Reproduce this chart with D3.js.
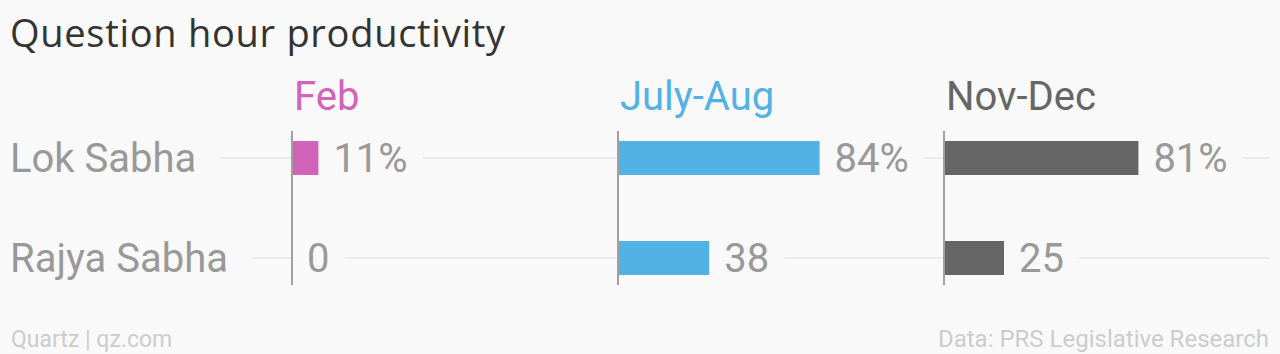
<!DOCTYPE html>
<html><head><meta charset="utf-8">
<script src="https://cdn.jsdelivr.net/npm/d3@7"></script>
<style>
html,body{margin:0;padding:0;background:#f9f9f9;}
svg{display:block;font-family:Roboto, "Noto Sans", sans-serif;}
</style></head>
<body>
<script>
const title = "Question hour productivity";
const categories = ["Lok Sabha", "Rajya Sabha"];
const periods = ["Feb", "July-Aug", "Nov-Dec"];
const periodColors = ["#d163b9", "#52b2e5", "#666666"];
const valuesFeb = [11, 0];
const valuesJulyAug = [84, 38];
const valuesNovDec = [81, 25];
const valueLabelsFeb = ["11%", "0"];
const valueLabelsJulyAug = ["84%", "38"];
const valueLabelsNovDec = ["81%", "25"];
const sourceLeft = "Quartz | qz.com";
const sourceRight = "Data: PRS Legislative Research";

const series = [valuesFeb, valuesJulyAug, valuesNovDec];
const seriesLabels = [valueLabelsFeb, valueLabelsJulyAug, valueLabelsNovDec];

const W = 1280, H = 354, BG = "#f9f9f9";
const svg = d3.select("body").append("svg").attr("width", W).attr("height", H);
svg.append("rect").attr("width", W).attr("height", H).attr("fill", BG);

svg.append("text").attr("x", 10).attr("y", 47).attr("font-size", 38)
  .attr("font-family", "'Open Sans', sans-serif").attr("font-weight", 500)
  .attr("fill", "#333").text(title)
  .each(function () {
    const w = this.getComputedTextLength();
    d3.select(this).attr("letter-spacing", (495 - w) / (title.length - 1));
  });

const yc = d3.scalePoint().domain(categories).range([158, 258]);
const barH = 34;
const panelX = d3.scalePoint().domain(periods).range([292, 944]);
const x = d3.scaleLinear().domain([0, 100]).range([0, 240]);

const gridLayer = svg.append("g");
const maskLayer = svg.append("g");
const markLayer = svg.append("g");
const textLayer = svg.append("g");

categories.forEach(c => {
  gridLayer.append("line").attr("x1", 0).attr("x2", 1270)
    .attr("y1", yc(c)).attr("y2", yc(c))
    .attr("stroke", "#e6e6e6").attr("stroke-width", 1.5);
});

function labelWithKnockout(sel, pad) {
  const bb = sel.node().getBBox();
  maskLayer.append("rect").attr("x", bb.x - pad).attr("y", bb.y)
    .attr("width", bb.width + pad * 2).attr("height", bb.height).attr("fill", BG);
}

categories.forEach(c => {
  const t = textLayer.append("text").attr("x", 10).attr("y", yc(c) + 13.5)
    .attr("font-size", 40).attr("fill", "#999").text(c);
  labelWithKnockout(t, 23);
});

periods.forEach((p, i) => {
  const px = panelX(p);
  textLayer.append("text").attr("x", px + 2).attr("y", 110).attr("font-size", 40)
    .attr("fill", periodColors[i]).text(p);
  const vals = series[i];
  categories.forEach((c, j) => {
    const bw = x(vals[j]) - x(0);
    markLayer.append("rect").attr("x", px + x(0)).attr("y", yc(c) - barH / 2)
      .attr("width", bw).attr("height", barH).attr("fill", periodColors[i]);
    const t = textLayer.append("text").attr("x", px + bw + 15)
      .attr("y", yc(c) + 13.5).attr("font-size", 40)
      .attr("fill", "#999").text(seriesLabels[i][j]);
    labelWithKnockout(t, 15);
  });
  markLayer.append("line").attr("x1", px).attr("x2", px).attr("y1", 131).attr("y2", 285)
    .attr("stroke", "#a0a0a0").attr("stroke-width", 2);
});

svg.append("text").attr("x", 11).attr("y", 347).attr("font-size", 23)
  .attr("fill", "#cccccc").text(sourceLeft);
svg.append("text").attr("x", 1269).attr("y", 347).attr("font-size", 24)
  .attr("text-anchor", "end").attr("fill", "#cccccc").text(sourceRight);
</script>
</body></html>
